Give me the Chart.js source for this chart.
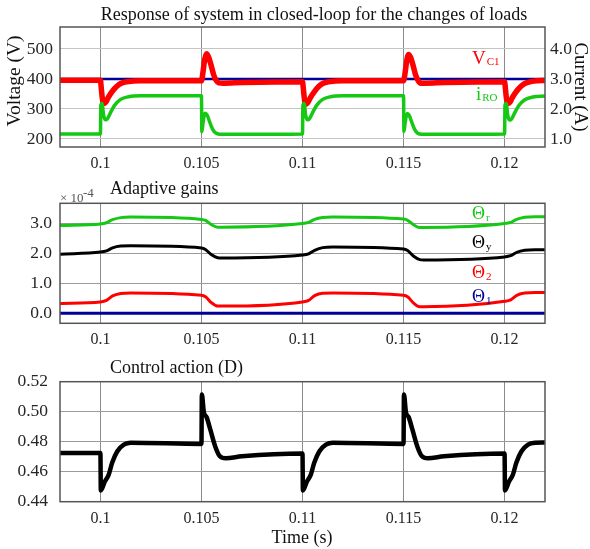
<!DOCTYPE html>
<html><head><meta charset="utf-8">
<script src="https://cdn.jsdelivr.net/npm/chart.js@4.4.1/dist/chart.umd.min.js"></script>
<style>
html,body{margin:0;padding:0;background:#fff;width:590px;height:549px;overflow:hidden}
canvas{position:absolute;left:0;top:0}
</style>
</head><body>
<canvas id="c1" width="590" height="549"></canvas>
<canvas id="c2" width="590" height="549"></canvas>
<canvas id="c3" width="590" height="549"></canvas>
<script>
// ---------- DATA ----------
const timeTicks = [0.1, 0.105, 0.11, 0.115, 0.12];
const voltTicks = [200, 300, 400, 500];
const currTicks = [1, 2, 3, 4];
const gainTicks = [0, 1, 2, 3];
const dTicks = [0.44, 0.46, 0.48, 0.50, 0.52];

// Panel 1: reference voltage (blue), V_C1 (red), i_RO (green, A)
const refT = [0.098, 0.122];
const refV = [400, 400];
const vc1T = [0.098, 0.1, 0.10004, 0.10009, 0.10016, 0.10026, 0.1004, 0.1006, 0.1008, 0.101, 0.1013, 0.1016, 0.102, 0.105,
  0.10508, 0.10516, 0.10525, 0.10535, 0.10548, 0.1056, 0.10572, 0.10585, 0.1061, 0.107, 0.11,
  0.11004, 0.11009, 0.11016, 0.11026, 0.1104, 0.1106, 0.1108, 0.111, 0.1113, 0.1116, 0.112, 0.115,
  0.11508, 0.11516, 0.11525, 0.11535, 0.11548, 0.1156, 0.11572, 0.11585, 0.1161, 0.117, 0.12,
  0.12004, 0.12009, 0.12016, 0.12026, 0.1204, 0.1206, 0.1208, 0.121, 0.1213, 0.1216, 0.122];
const vc1V = [396, 396, 372, 338, 318, 322, 340, 360, 375, 385, 391, 393, 394, 394,
  425, 465, 484, 474, 445, 415, 396, 387, 386, 388, 391,
  369, 336, 316, 321, 339, 359, 375, 385, 391, 393, 394, 394,
  422, 462, 482, 472, 443, 413, 395, 386, 386, 388, 391,
  369, 336, 318, 322, 340, 360, 375, 385, 391, 394, 395];
const iroT = [0.098, 0.1, 0.10002, 0.10008, 0.10016, 0.10025, 0.10035, 0.1005, 0.1007, 0.101, 0.1014, 0.102, 0.105,
  0.10502, 0.10508, 0.10518, 0.10528, 0.1054, 0.10555, 0.1057, 0.1059, 0.107, 0.11,
  0.11002, 0.11008, 0.11016, 0.11025, 0.11035, 0.1105, 0.1107, 0.111, 0.1114, 0.112, 0.115,
  0.11502, 0.11508, 0.11518, 0.11528, 0.1154, 0.11555, 0.1157, 0.1159, 0.117, 0.12,
  0.12002, 0.12008, 0.12016, 0.12025, 0.12035, 0.1205, 0.1207, 0.121, 0.1214, 0.122];
const iroV = [1.17, 1.17, 2.12, 2.18, 1.78, 1.64, 1.68, 1.88, 2.12, 2.32, 2.41, 2.44, 2.44,
  1.24, 1.55, 1.86, 1.80, 1.58, 1.33, 1.20, 1.16, 1.16, 1.17,
  2.12, 2.18, 1.78, 1.64, 1.68, 1.88, 2.12, 2.32, 2.41, 2.44, 2.44,
  1.25, 1.55, 1.85, 1.79, 1.57, 1.32, 1.19, 1.16, 1.16, 1.17,
  2.12, 2.18, 1.78, 1.63, 1.67, 1.87, 2.11, 2.31, 2.40, 2.43];

// Panel 2: adaptive gains (x 1e-4)
const gainT = [0.098, 0.1, 0.1003, 0.1006, 0.101, 0.1015, 0.105, 0.1052, 0.1055, 0.1058, 0.106,
  0.11, 0.1103, 0.1106, 0.111, 0.1115, 0.115, 0.1152, 0.1155, 0.1158, 0.116,
  0.12, 0.1203, 0.1206, 0.121, 0.1215, 0.122];
const thetaR = [2.93, 2.98, 3.02, 3.12, 3.19, 3.21, 3.13, 3.10, 2.95, 2.87, 2.87,
  2.99, 3.03, 3.13, 3.19, 3.21, 3.14, 3.10, 2.95, 2.86, 2.86,
  2.99, 3.03, 3.13, 3.20, 3.22, 3.22];
const thetaY = [1.97, 2.04, 2.08, 2.18, 2.24, 2.25, 2.18, 2.13, 1.95, 1.85, 1.84,
  1.94, 1.98, 2.10, 2.19, 2.21, 2.14, 2.09, 1.90, 1.79, 1.78,
  1.88, 1.92, 2.03, 2.10, 2.12, 2.12];
const theta2 = [0.33, 0.38, 0.43, 0.58, 0.66, 0.68, 0.60, 0.55, 0.35, 0.24, 0.24,
  0.38, 0.43, 0.59, 0.67, 0.68, 0.60, 0.55, 0.34, 0.22, 0.22,
  0.40, 0.45, 0.60, 0.68, 0.69, 0.69];
const theta1T = [0.098, 0.122];
const theta1 = [0, 0];

// Panel 3: control action D
const dT = [0.098, 0.1, 0.10002, 0.10022, 0.10041, 0.10058, 0.10083, 0.10116, 0.1015, 0.105,
  0.10502, 0.10512, 0.10525, 0.10544, 0.10569, 0.1059, 0.1062, 0.107, 0.11,
  0.11002, 0.11022, 0.11041, 0.11058, 0.11083, 0.11116, 0.1115, 0.115,
  0.11502, 0.11512, 0.11525, 0.11544, 0.11569, 0.1159, 0.1162, 0.117, 0.12,
  0.12002, 0.12022, 0.12041, 0.12058, 0.12083, 0.12116, 0.1215, 0.122];
const dV = [0.4725, 0.4725, 0.4475, 0.4535, 0.458, 0.466, 0.4735, 0.478, 0.4793, 0.4785,
  0.5115, 0.4995, 0.4965, 0.488, 0.4765, 0.4705, 0.469, 0.4703, 0.4722,
  0.4475, 0.4535, 0.458, 0.466, 0.4735, 0.478, 0.4793, 0.4785,
  0.5115, 0.4995, 0.4965, 0.488, 0.4765, 0.4705, 0.469, 0.4703, 0.4722,
  0.4475, 0.4535, 0.458, 0.466, 0.4735, 0.478, 0.4793, 0.4795];

// ---------- HELPERS ----------
const FONT = "'Liberation Serif', 'Times New Roman', serif";
const pts = (t, v) => t.map((x, i) => ({x: x, y: v[i]}));
const line = (data, color, width, order, yAxisID) => ({
  data, borderColor: color, backgroundColor: color, borderWidth: width, pointRadius: 0,
  cubicInterpolationMode: 'monotone', order, yAxisID: yAxisID || 'y', fill: false
});
const xFont = {family: FONT, size: 16};
const yFont = {family: FONT, size: 17.5};
function xScale(bottom) {
  return {
    type: 'linear', min: 0.098, max: 0.122,
    afterBuildTicks: s => { s.ticks = timeTicks.map(v => ({value: v})); },
    afterFit: s => { s.height = 549 - bottom; },
    grid: {color: '#8a8a8a', lineWidth: 1, drawTicks: false},
    border: {display: false},
    ticks: {padding: 7, color: '#262626', font: xFont, maxRotation: 0, autoSkip: false,
      callback: v => String(+(+v).toFixed(3))}
  };
}
function yScale(min, max, ticks, fmt, pos, width, pad, gridColor) {
  return {
    type: 'linear', position: pos, min, max,
    afterBuildTicks: s => { s.ticks = ticks.map(v => ({value: v})); },
    afterFit: s => { s.width = width; },
    grid: {color: gridColor, lineWidth: 1, drawTicks: false, display: gridColor !== null},
    border: {display: false},
    ticks: {padding: pad, color: '#262626', font: yFont, autoSkip: false, callback: fmt}
  };
}
const boxPlugin = {
  id: 'box',
  afterDatasetsDraw(chart) {
    const {ctx, chartArea: a} = chart;
    ctx.save();
    ctx.strokeStyle = '#555';
    ctx.lineWidth = 1.5;
    ctx.strokeRect(a.left, a.top, a.right - a.left, a.bottom - a.top);
    ctx.restore();
  }
};
function textPlugin(items) {
  return {
    id: 'texts',
    afterDraw(chart) {
      const ctx = chart.ctx;
      items.forEach(it => {
        ctx.save();
        ctx.fillStyle = it.color || '#111';
        ctx.font = (it.size || 16) + 'px ' + FONT;
        ctx.textAlign = it.align || 'left';
        ctx.textBaseline = it.base || 'alphabetic';
        ctx.translate(it.x, it.y);
        if (it.rot) ctx.rotate(it.rot);
        ctx.fillText(it.text, 0, 0);
        if (it.sub) {
          const w = ctx.measureText(it.text).width;
          ctx.font = (it.subSize || 11) + 'px ' + FONT;
          ctx.textAlign = 'left';
          ctx.fillText(it.sub, w + (it.subDx || 1), it.subDy || 2);
        }
        ctx.restore();
      });
    }
  };
}
const f1 = v => (+v).toFixed(0);
const f1d = v => (+v).toFixed(1);
const f2 = v => (+v).toFixed(2);

// ---------- CHART 1 ----------
new Chart(document.getElementById('c1'), {
  type: 'line',
  data: {datasets: [
    line(pts(refT, refV), '#000099', 2.5, 3, 'y'),
    line(pts(vc1T, vc1V), '#ff0000', 5.5, 2, 'y'),
    line(pts(iroT, iroV), '#14c814', 3.5, 1, 'y1')
  ]},
  options: {
    responsive: false, animation: false, devicePixelRatio: 1,
    layout: {padding: {top: 27, left: 0, right: 0, bottom: 0}},
    plugins: {legend: {display: false}, tooltip: {enabled: false}},
    scales: {
      x: xScale(147),
      y: yScale(173.3, 573.3, voltTicks, f1, 'left', 60, 7, '#c4c4c4'),
      y1: yScale(0.733, 4.733, currTicks, f1d, 'right', 45, 5, null)
    }
  },
  plugins: [boxPlugin, textPlugin([
    {text: 'Response of system in closed-loop for the changes of loads', x: 314, y: 15, align: 'center', base: 'middle', size: 18},
    {text: 'Voltage (V)', x: 15, y: 81, align: 'center', base: 'middle', size: 19.5, rot: -Math.PI / 2},
    {text: 'Current (A)', x: 580, y: 87, align: 'center', base: 'middle', size: 19, rot: Math.PI / 2},
    {text: 'V', x: 472, y: 64, size: 19, color: '#ff0000', sub: 'C1', subSize: 11, subDy: 1},
    {text: 'i', x: 476, y: 100, size: 19, color: '#14c814', sub: 'RO', subSize: 11, subDy: 1}
  ])]
});

// ---------- CHART 2 ----------
new Chart(document.getElementById('c2'), {
  type: 'line',
  data: {datasets: [
    line(pts(theta1T, theta1), '#000099', 3, 4),
    line(pts(gainT, theta2), '#ff0000', 3, 3),
    line(pts(gainT, thetaY), '#000000', 3, 2),
    line(pts(gainT, thetaR), '#14c814', 3, 1)
  ]},
  options: {
    responsive: false, animation: false, devicePixelRatio: 1,
    layout: {padding: {top: 203.3, left: 0, right: 45, bottom: 0}},
    plugins: {legend: {display: false}, tooltip: {enabled: false}},
    scales: {
      x: xScale(323.3),
      y: yScale(-0.333, 3.667, gainTicks, f1d, 'left', 60, 8, '#9a9a9a')
    }
  },
  plugins: [boxPlugin, textPlugin([
    {text: '\u00d7 10', x: 60, y: 201.5, size: 13, color: '#555'},
    {text: '-4', x: 83, y: 196.5, size: 13, color: '#555'},
    {text: 'Adaptive gains', x: 110, y: 189, base: 'middle', size: 18},
    {text: '\u0398', x: 472, y: 219, size: 18, color: '#14c814', sub: 'r', subSize: 11, subDy: 2},
    {text: '\u0398', x: 472, y: 248, size: 18, color: '#000000', sub: 'y', subSize: 11, subDy: 2},
    {text: '\u0398', x: 472, y: 278, size: 18, color: '#ff0000', sub: '2', subSize: 11, subDy: 2},
    {text: '\u0398', x: 472, y: 301.5, size: 18, color: '#000099', sub: '1', subSize: 11, subDy: 2}
  ])]
});

// ---------- CHART 3 ----------
new Chart(document.getElementById('c3'), {
  type: 'line',
  data: {datasets: [
    line(pts(dT, dV), '#000000', 4.5, 1)
  ]},
  options: {
    responsive: false, animation: false, devicePixelRatio: 1,
    layout: {padding: {top: 381.7, left: 0, right: 45, bottom: 0}},
    plugins: {legend: {display: false}, tooltip: {enabled: false}},
    scales: {
      x: xScale(501.7),
      y: yScale(0.44, 0.52, dTicks, f2, 'left', 60, 12, '#9a9a9a')
    }
  },
  plugins: [boxPlugin, textPlugin([
    {text: 'Control action (D)', x: 110, y: 368, base: 'middle', size: 18},
    {text: 'Time (s)', x: 302, y: 538, align: 'center', base: 'middle', size: 18}
  ])]
});
</script>
</body></html>
